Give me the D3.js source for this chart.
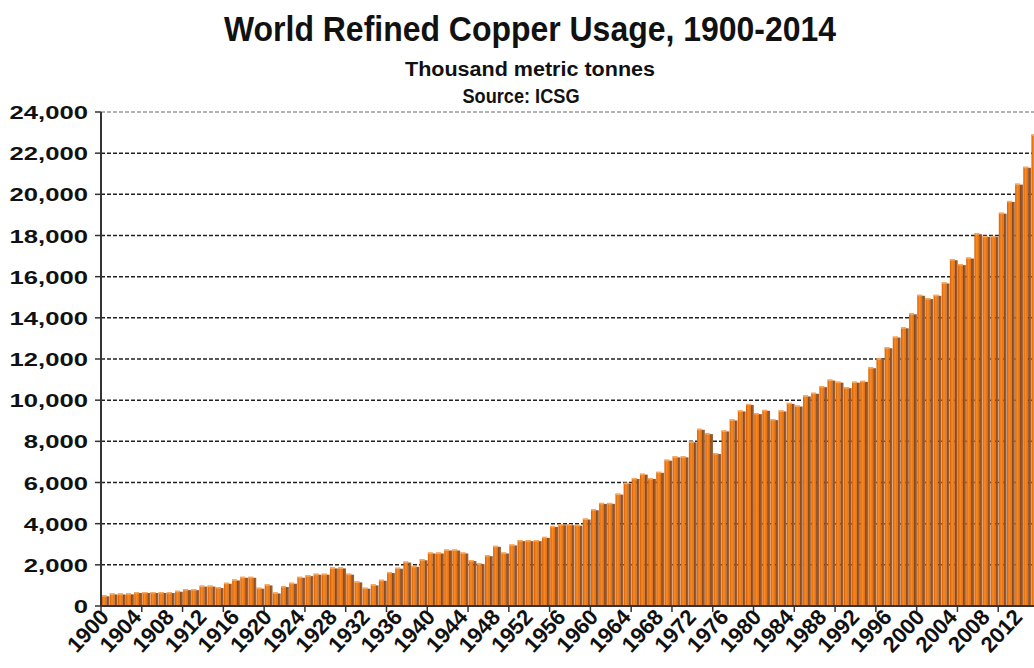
<!DOCTYPE html>
<html>
<head>
<meta charset="utf-8">
<script src="https://cdnjs.cloudflare.com/ajax/libs/d3/7.8.5/d3.min.js"></script>
<style>
    body { margin: 0; background: #fff; }
    svg { display: block; font-family: "Liberation Sans", Arial, sans-serif; }
</style>
</head>
<body>
<div id="chart"></div>
<script>

// years on the category axis
var years = d3.range(1900, 2015);

// world refined copper usage, thousand tonnes
var usage = [
    520, 610, 610, 615, 680, 680, 680, 680, 680, 740,
    820, 820, 990, 990, 920, 1130, 1290, 1420, 1420, 890,
    1050, 660, 970, 1130, 1420, 1500, 1570, 1570, 1875, 1875,
    1570, 1195, 890, 1050, 1275, 1650, 1860, 2160, 1950, 2270,
    2600, 2600, 2745, 2745, 2600, 2230, 2085, 2470, 2925, 2600,
    2990, 3200, 3200, 3200, 3360, 3890, 3975, 3975, 3950, 4250,
    4700, 5010, 5010, 5460, 5990, 6220, 6430, 6220, 6520, 7110,
    7270, 7270, 8000, 8610, 8400, 7430, 8530, 9065, 9500, 9820,
    9370, 9530, 9080, 9500, 9870, 9740, 10230, 10360, 10680, 11000,
    10900, 10630, 10900, 10940, 11600, 12040, 12570, 13090, 13540, 14220,
    15120, 14960, 15120, 15720, 16850, 16610, 16930, 18110, 17980, 17980,
    19110, 19680, 20520, 21340, 22910
];

var yTicks = d3.range(0, 24001, 2000);
var labelYears = years.filter(function(d) { return (d - 1900) % 4 == 0; });
var tickYears = years.filter(function(d) { return (d - 1900) % 5 == 0; });

var title = "World Refined Copper Usage, 1900-2014";
var subTitle = "Thousand metric tonnes";
var sourceNote = "Source: ICSG";

var width = 1034, height = 668;
var margin = {left: 101, top: 112, bottom: 606};

var svg = d3.select("#chart").append("svg")
    .attr("width", width)
    .attr("height", height);

var defs = svg.append("defs");

// front face of the 3d column
var gFront = defs.append("linearGradient").attr("id", "front");
gFront.append("stop").attr("offset", "0%").attr("stop-color", "#d45e08");
gFront.append("stop").attr("offset", "45%").attr("stop-color", "#f98a20");
gFront.append("stop").attr("offset", "100%").attr("stop-color", "#e06c0c");

// right side face
var gSide = defs.append("linearGradient").attr("id", "side");
gSide.append("stop").attr("offset", "0%").attr("stop-color", "#84441a");
gSide.append("stop").attr("offset", "100%").attr("stop-color", "#a8683c");

var x = d3.scaleBand()
    .domain(years)
    .range([margin.left, 1039])
    .paddingInner(0);

var y = d3.scaleLinear()
    .domain([0, 24000])
    .range([margin.bottom, margin.top]);

var bw = x.bandwidth();

// titles
svg.append("text")
    .attr("x", 530).attr("y", 41)
    .attr("text-anchor", "middle")
    .attr("font-size", 35).attr("font-weight", "bold")
    .attr("textLength", 612).attr("lengthAdjust", "spacingAndGlyphs")
    .attr("fill", "#111")
    .text(title);

svg.append("text")
    .attr("x", 530).attr("y", 76)
    .attr("text-anchor", "middle")
    .attr("font-size", 20).attr("font-weight", "bold")
    .attr("textLength", 250).attr("lengthAdjust", "spacingAndGlyphs")
    .attr("fill", "#111")
    .text(subTitle);

svg.append("text")
    .attr("x", 521).attr("y", 103)
    .attr("text-anchor", "middle")
    .attr("font-size", 20).attr("font-weight", "bold")
    .attr("textLength", 117).attr("lengthAdjust", "spacingAndGlyphs")
    .attr("fill", "#111")
    .text(sourceNote);

// gridlines
svg.selectAll(".grid")
    .data(yTicks.filter(function(d) { return d > 0; }))
    .enter().append("line")
    .attr("class", "grid")
    .attr("x1", margin.left).attr("x2", width)
    .attr("y1", function(d) { return y(d); })
    .attr("y2", function(d) { return y(d); })
    .attr("stroke", function(d) { return d == 24000 ? "#9a9a9a" : "#222"; })
    .attr("stroke-width", 1.5)
    .attr("stroke-dasharray", "4,2");

// bars
var bar = svg.selectAll(".bar")
    .data(usage)
    .enter().append("g")
    .attr("class", "bar")
    .attr("transform", function(d, i) { return "translate(" + x(years[i]) + ",0)"; });

bar.append("rect")
    .attr("x", 0.6)
    .attr("y", function(d) { return y(d); })
    .attr("width", bw * 0.6)
    .attr("height", function(d) { return y(0) - y(d); })
    .attr("fill", "url(#front)");

bar.append("rect")
    .attr("x", 0.6 + bw * 0.6)
    .attr("y", function(d) { return y(d) + 1; })
    .attr("width", bw * 0.36)
    .attr("height", function(d) { return y(0) - y(d) - 1; })
    .attr("fill", "url(#side)");

bar.append("rect")
    .attr("x", 0.6)
    .attr("y", function(d) { return y(d); })
    .attr("width", bw * 0.6)
    .attr("height", 1.5)
    .attr("fill", "#f9a860");

// y axis
svg.append("line")
    .attr("x1", margin.left).attr("x2", margin.left)
    .attr("y1", y(24000)).attr("y2", y(0))
    .attr("stroke", "#333").attr("stroke-width", 2);

svg.selectAll(".ytick")
    .data(yTicks)
    .enter().append("line")
    .attr("x1", margin.left - 6).attr("x2", margin.left)
    .attr("y1", function(d) { return y(d); })
    .attr("y2", function(d) { return y(d); })
    .attr("stroke", "#333").attr("stroke-width", 1.5);

svg.selectAll(".ylabel")
    .data(yTicks)
    .enter().append("text")
    .attr("class", "ylabel")
    .attr("transform", function(d) { return "translate(88," + (y(d) + 7) + ") scale(1.35,1)"; })
    .attr("text-anchor", "end")
    .attr("font-size", 19).attr("font-weight", "bold")
    .attr("fill", "#111")
    .text(d3.format(","));

// x axis
svg.append("line")
    .attr("x1", margin.left).attr("x2", width)
    .attr("y1", y(0)).attr("y2", y(0))
    .attr("stroke", "#333").attr("stroke-width", 2);

svg.selectAll(".xtick")
    .data(tickYears)
    .enter().append("line")
    .attr("x1", function(d) { return x(d); })
    .attr("x2", function(d) { return x(d); })
    .attr("y1", y(0)).attr("y2", y(0) + 6)
    .attr("stroke", "#333").attr("stroke-width", 1.5);

svg.selectAll(".xlabel")
    .data(labelYears)
    .enter().append("text")
    .attr("class", "xlabel")
    .attr("transform", function(d) { return "translate(" + (x(d) + bw / 2 + 5) + "," + (y(0) + 12) + ") rotate(-47)"; })
    .attr("text-anchor", "end")
    .attr("font-size", 22).attr("font-weight", "bold")
    .attr("fill", "#111")
    .text(function(d) { return d; });

</script>
</body>
</html>
